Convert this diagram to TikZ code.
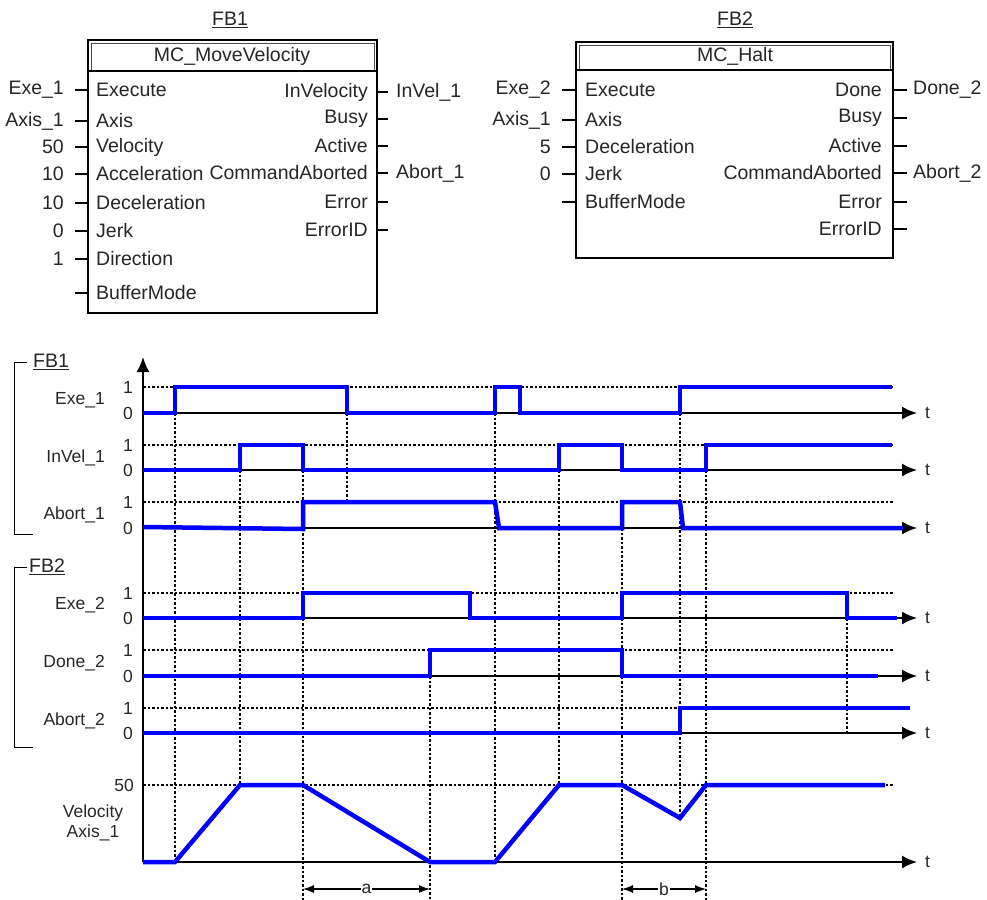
\documentclass[tikz,border=0pt]{standalone}
\usepackage{fontspec}
\setmainfont{Liberation Sans}
\usetikzlibrary{arrows.meta}

\begin{document}
\begin{tikzpicture}[x=1pt,y=-1pt,
				lbl/.style={
					text=black!85,
					inner sep=0pt,
					font=\fontsize{19.5}{22}\selectfont
				},
				sml/.style={
					text=black!85,
					inner sep=0pt,
					font=\fontsize{17.5}{20}\selectfont
				},
				fbbox/.style={
					draw=black,
					line width=2.4pt
				},
				hdr/.style={
					draw=black!70,
					line width=0.8pt
				},
				pin/.style={
					draw=black,
					line width=1.2pt
				},
				axis/.style={
					draw=black,
					line width=2pt,
					-{Latex[length=15pt,width=13pt]}
				},
				grid/.style={
					draw=black,
					line width=1.1pt,
					dash pattern=on 2.5pt off 2pt
				},
				sig/.style={
					draw=blue,
					line width=4.5pt
				},
				dim/.style={
					draw=black,
					line width=1.1pt,
					{Latex[length=11pt,width=8pt]}-{Latex[length=11pt,width=8pt]}
				}
			]

				\useasboundingbox (0,0) rectangle (987,899);

				\node[lbl] (fb1title) at (230,20) {\underline{FB1}};
				\draw[hdr] (91,43) rectangle (374,71);
				\draw[fbbox] (88,40) rectangle (377,313);
				\draw[fbbox] (88,71) -- (377,71);
				\node[lbl] (fb1name) at (232,56) {MC\_MoveVelocity};

				\foreach \py/\pext/\pname [count=\i] in {90/Exe\_1/Execute, 121/Axis\_1/Axis, 147/50/Velocity, 174/10/Acceleration, 203/10/Deceleration, 231/0/Jerk, 259/1/Direction, 293//BufferMode} {
					\coordinate (fb1in\i) at (88,\py);
					\draw[pin] (fb1in\i) -- ++(-13,0) coordinate (fb1inend\i);
					\node[lbl,anchor=west] (fb1inlab\i) at (96,\py) {\pname};
					\node[lbl,anchor=east] (fb1inval\i) at (64,\py) {\pext};
				}

				\foreach \py/\pname/\pext [count=\i] in {92/InVelocity/InVel\_1, 119/Busy/, 146/Active/, 173/CommandAborted/Abort\_1, 202/Error/, 230/ErrorID/} {
					\coordinate (fb1out\i) at (377,\py);
					\draw[pin] (fb1out\i) -- ++(11,0) coordinate (fb1outend\i);
					\node[lbl,anchor=east] (fb1outlab\i) at (368,\py) {\pname};
					\node[lbl,anchor=west] (fb1outval\i) at (396,\py) {\pext};
				}

				\node[lbl] (fb2title) at (735,20) {\underline{FB2}};
				\draw[hdr] (579,45) rectangle (890,70);
				\draw[fbbox] (576,42) rectangle (893,258);
				\draw[fbbox] (576,70) -- (893,70);
				\node[lbl] (fb2name) at (735,56) {MC\_Halt};

				\foreach \py/\pext/\pname [count=\i] in {90/Exe\_2/Execute, 120/Axis\_1/Axis, 147/5/Deceleration, 174/0/Jerk, 202//BufferMode} {
					\coordinate (fb2in\i) at (576,\py);
					\draw[pin] (fb2in\i) -- ++(-14,0) coordinate (fb2inend\i);
					\node[lbl,anchor=west] (fb2inlab\i) at (585,\py) {\pname};
					\node[lbl,anchor=east] (fb2inval\i) at (551,\py) {\pext};
				}

				\foreach \py/\pname/\pext [count=\i] in {90/Done/Done\_2, 118/Busy/, 146/Active/, 173/CommandAborted/Abort\_2, 202/Error/, 229/ErrorID/} {
					\coordinate (fb2out\i) at (893,\py);
					\draw[pin] (fb2out\i) -- ++(14,0) coordinate (fb2outend\i);
					\node[lbl,anchor=east] (fb2outlab\i) at (882,\py) {\pname};
					\node[lbl,anchor=west] (fb2outval\i) at (913,\py) {\pext};
				}

				\draw[grid] (175,413) -- (175,862);
				\draw[grid] (240,470) -- (240,785);
				\draw[grid] (303,470) -- (303,905);
				\draw[grid] (347,413) -- (347,502);
				\draw[grid] (430,676) -- (430,905);
				\draw[grid] (495,413) -- (495,862);
				\draw[grid] (559,470) -- (559,785);
				\draw[grid] (622,528) -- (622,905);
				\draw[grid] (680,413) -- (680,818);
				\draw[grid] (706,470) -- (706,905);
				\draw[grid] (847,618) -- (847,733);

				\foreach \y in {387,445,502,593,650,708,785}
					\draw[grid] (143,\y) -- (893,\y);

				\draw[axis] (143,862) -- (143,357);
				\foreach \y/\n in {413/exea,470/inva,528/aba,618/exeb,676/doneb,733/abb,862/vel}
					\draw[axis] (143,\y) -- (917,\y) node[sml,anchor=west,xshift=7pt] (t-\n) {t};

				\foreach \ya/\yb/\n/\txt in {387/413/exea/Exe\_1, 445/470/inva/InVel\_1, 502/528/aba/Abort\_1, 593/618/exeb/Exe\_2, 650/676/doneb/Done\_2, 708/733/abb/Abort\_2} {
					\node[sml] (one-\n) at (128,\ya) {1};
					\node[sml] (zero-\n) at (128,\yb) {0};
					\node[sml,anchor=east] (name-\n) at (105,{(\ya+\yb)/2}) {\txt};
				}
				\node[sml,anchor=east] (fifty) at (134,785) {50};
				\node[sml,align=center] (velname) at (93,823) {Velocity\\Axis\_1};

				\node[lbl,anchor=west] (grp1) at (33,362) {\underline{FB1}};
				\draw[pin, line width=1pt] (27,362) -- (14,362) -- (14,534) -- (33,534);
				\node[lbl,anchor=west] (grp2) at (29,567) {\underline{FB2}};
				\draw[pin, line width=1pt] (27,567) -- (14,567) -- (14,747) -- (33,747);

				\draw[sig] (143,413) -- (175,413) -- (175,387) -- (347,387) -- (347,413) -- (495,413) -- (495,387) -- (520,387) -- (520,413) -- (680,413) -- (680,387) -- (892,387);
				\draw[sig] (143,470) -- (240,470) -- (240,445) -- (303,445) -- (303,470) -- (559,470) -- (559,445) -- (622,445) -- (622,470) -- (706,470) -- (706,445) -- (892,445);
				\draw[sig] (143,527) -- (303,529) -- (303,502) -- (495,502) -- (499,528) -- (622,528) -- (622,502) -- (680,502) -- (683,528) -- (903,528);
				\draw[sig] (143,618) -- (303,618) -- (303,593) -- (470,593) -- (470,618) -- (622,618) -- (622,593) -- (847,593) -- (847,618) -- (897,618);
				\draw[sig] (143,676) -- (430,676) -- (430,650) -- (622,650) -- (622,676) -- (878,676);
				\draw[sig] (143,733) -- (680,733) -- (680,708) -- (910,708);
				\draw[sig] (143,862) -- (175,862) -- (240,785) -- (303,785) -- (430,862) -- (495,862) -- (559,785) -- (622,785) -- (680,818) -- (706,785) -- (885,785);

				\coordinate (a-left) at (303,889);
				\coordinate (a-right) at (430,889);
				\draw[dim] (a-left) -- node[sml,fill=white,inner sep=1pt] (a-lab) {a} (a-right);
				\coordinate (b-left) at (622,889);
				\coordinate (b-right) at (706,889);
				\draw[dim] (b-left) -- node[sml,fill=white,inner sep=1pt] (b-lab) {b} (b-right);

			\end{tikzpicture}
\end{document}
